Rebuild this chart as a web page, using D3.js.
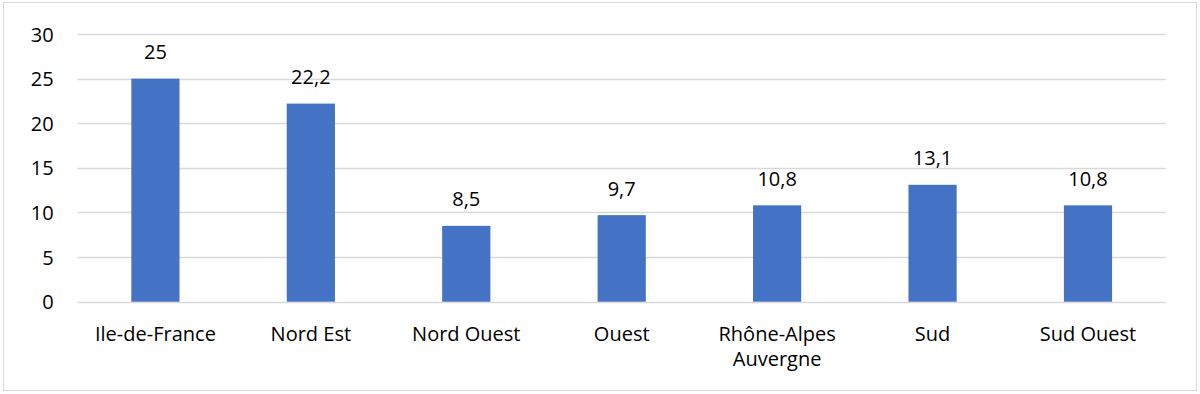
<!DOCTYPE html>
<html>
<head>
<meta charset="utf-8">
<script src="https://cdn.jsdelivr.net/npm/d3@7"></script>
<style>
  body { margin: 0; background: #fff; }
  text { font-family: "Open Sans", "Noto Sans", sans-serif; fill: #000; }
</style>
</head>
<body>
<script>
var regions = ["Ile-de-France", "Nord Est", "Nord Ouest", "Ouest", "Rhône-Alpes Auvergne", "Sud", "Sud Ouest"];
var values = [25, 22.2, 8.5, 9.7, 10.8, 13.1, 10.8];
var yTicks = [0, 5, 10, 15, 20, 25, 30];

var W = 1200, H = 394;
var plot = {left: 77.7, right: 1165.7, top: 34, bottom: 301.7};
var fs = 20;

var svg = d3.select("body").append("svg")
            .attr("width", W)
            .attr("height", H);

// frame
svg.append("rect")
   .attr("x", 3.5).attr("y", 2.5)
   .attr("width", 1193).attr("height", 388)
   .attr("fill", "#fff")
   .attr("stroke", "#d9d9d9")
   .attr("stroke-width", 1);

var x = d3.scaleBand()
          .domain(regions)
          .range([plot.left, plot.right])
          .paddingInner(0.69)
          .paddingOuter(0.345);

var y = d3.scaleLinear()
          .domain([0, 30])
          .range([plot.bottom, plot.top]);

var fmt = function(v){ return String(v).replace(".", ","); };

// grid lines
svg.append("g")
   .selectAll("line")
   .data(yTicks)
   .enter()
   .append("line")
   .attr("x1", plot.left)
   .attr("x2", plot.right)
   .attr("y1", function(d){ return Math.round(y(d)) + 0.5; })
   .attr("y2", function(d){ return Math.round(y(d)) + 0.5; })
   .attr("stroke", "#d9d9d9")
   .attr("stroke-width", 1.5);

// y axis labels
var yAxis = svg.append("g")
   .attr("transform", "translate(" + (plot.left - 24) + ",0)")
   .call(d3.axisLeft(y).tickValues(yTicks).tickSize(0).tickPadding(0));
yAxis.select(".domain").remove();
yAxis.selectAll("text")
     .attr("font-size", fs)
     .attr("dy", "0.35em")
     .style("font-family", null);

// bars
svg.append("g")
   .selectAll("rect")
   .data(values)
   .enter()
   .append("rect")
   .attr("x", function(d, i){ return x(regions[i]); })
   .attr("y", function(d){ return y(d); })
   .attr("width", x.bandwidth())
   .attr("height", function(d){ return plot.bottom - y(d); })
   .attr("fill", "#4472c4");

// value labels
svg.append("g")
   .selectAll("text")
   .data(values)
   .enter()
   .append("text")
   .attr("x", function(d, i){ return x(regions[i]) + x.bandwidth() / 2; })
   .attr("y", function(d){ return y(d) - 19.5; })
   .attr("text-anchor", "middle")
   .attr("font-size", fs)
   .text(fmt);

// category labels
var xAxis = svg.append("g")
   .attr("transform", "translate(0," + plot.bottom + ")")
   .call(d3.axisBottom(x).tickSize(0).tickPadding(0));
xAxis.select(".domain").remove();
xAxis.selectAll("text")
     .attr("y", 0)
     .attr("dy", null)
     .attr("font-size", fs)
     .style("font-family", null)
     .each(function(d){
       var t = d3.select(this);
       var words = d === "Rhône-Alpes Auvergne" ? ["Rhône-Alpes", "Auvergne"] : [d];
       t.text(null);
       words.forEach(function(w, k){
         t.append("tspan")
          .attr("x", 0)
          .attr("y", 39.5 + k * 25)
          .text(w);
       });
     });
</script>
</body>
</html>
